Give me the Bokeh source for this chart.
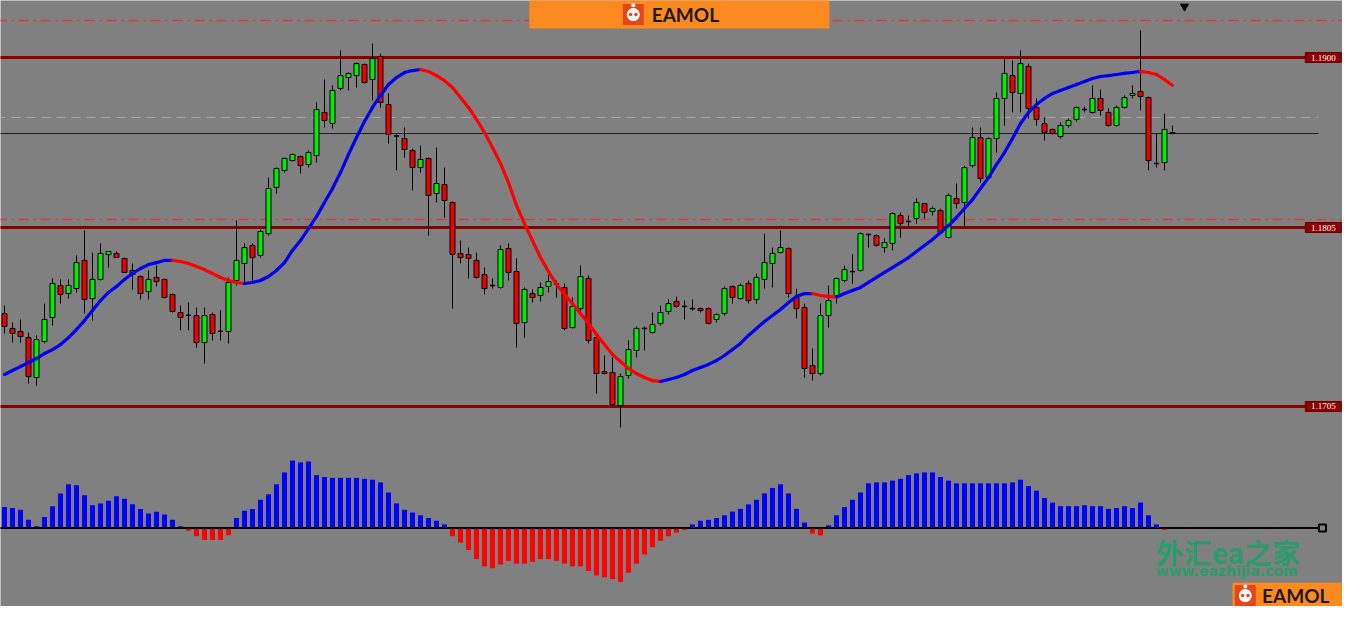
import numpy as np
from bokeh.plotting import figure
from bokeh.models import Range1d
from bokeh.embed import file_html
from bokeh.resources import INLINE
from bokeh.core.properties import value

# ---------------- data (EURUSD-like candles) ----------------
opens = [
    1.17570, 1.17486, 1.17469, 1.17435, 1.17212, 1.17413, 1.17547, 1.17726, 1.17681, 1.17709,
    1.17866, 1.17653, 1.17760, 1.17899, 1.17905, 1.17877, 1.17810, 1.17776, 1.17692, 1.17771,
    1.17760, 1.17676, 1.17575, 1.17560, 1.17558, 1.17407, 1.17564, 1.17470, 1.17469, 1.17754,
    1.17849, 1.17950, 1.17894, 1.18016, 1.18274, 1.18369, 1.18424, 1.18447, 1.18402, 1.18452,
    1.18693, 1.18631, 1.18827, 1.18888, 1.18899, 1.18961, 1.18877, 1.19006, 1.18737, 1.18562,
    1.18547, 1.18480, 1.18385, 1.18436, 1.18240, 1.18290, 1.18190, 1.17905, 1.17899, 1.17866,
    1.17787, 1.17726, 1.17715, 1.17933, 1.17804, 1.17519, 1.17681, 1.17670, 1.17720, 1.17735,
    1.17715, 1.17491, 1.17597, 1.17765, 1.17435, 1.17245, 1.17240, 1.17055, 1.17223, 1.17363,
    1.17486, 1.17463, 1.17514, 1.17581, 1.17637, 1.17609, 1.17597, 1.17597, 1.17597, 1.17536,
    1.17570, 1.17720, 1.17653, 1.17737, 1.17648, 1.17760, 1.17849, 1.17910, 1.17933, 1.17659,
    1.17603, 1.17279, 1.17234, 1.17558, 1.17670, 1.17754, 1.17804, 1.17810, 1.18011, 1.18005,
    1.17938, 1.17961, 1.18117, 1.18084, 1.18100, 1.18184, 1.18140, 1.18145, 1.17994, 1.18212,
    1.18190, 1.18396, 1.18553, 1.18329, 1.18547, 1.18771, 1.18899, 1.18799, 1.18950, 1.18721,
    1.18631, 1.18598, 1.18558, 1.18620, 1.18654, 1.18709, 1.18693, 1.18771, 1.18693, 1.18620,
    1.18721, 1.18788, 1.18810, 1.18776, 1.18408, 1.18413, 1.18581,
]
highs = [
    1.17614, 1.17519, 1.17536, 1.17463, 1.17447, 1.17625, 1.17765, 1.17760, 1.17760, 1.17894,
    1.18033, 1.17910, 1.17961, 1.17916, 1.17916, 1.17882, 1.17849, 1.17782, 1.17810, 1.17838,
    1.17765, 1.17681, 1.17614, 1.17631, 1.17603, 1.17603, 1.17575, 1.17586, 1.17771, 1.18089,
    1.17961, 1.17961, 1.18039, 1.18329, 1.18385, 1.18441, 1.18464, 1.18452, 1.18480, 1.18749,
    1.18877, 1.18844, 1.19039, 1.18916, 1.18972, 1.18966, 1.19078, 1.19022, 1.18799, 1.18570,
    1.18609, 1.18491, 1.18508, 1.18441, 1.18497, 1.18385, 1.18195, 1.17977, 1.17938, 1.17910,
    1.17826, 1.17765, 1.17950, 1.17961, 1.17877, 1.17715, 1.17704, 1.17743, 1.17799, 1.17754,
    1.17737, 1.17659, 1.17838, 1.17782, 1.17447, 1.17335, 1.17324, 1.17234, 1.17419, 1.17497,
    1.17497, 1.17575, 1.17614, 1.17648, 1.17664, 1.17642, 1.17648, 1.17603, 1.17603, 1.17570,
    1.17720, 1.17726, 1.17737, 1.17754, 1.17793, 1.18016, 1.17938, 1.18033, 1.17938, 1.17709,
    1.17625, 1.17374, 1.17625, 1.17726, 1.17771, 1.17838, 1.17899, 1.18022, 1.18016, 1.18011,
    1.17989, 1.18134, 1.18134, 1.18117, 1.18212, 1.18187, 1.18167, 1.18156, 1.18240, 1.18296,
    1.18396, 1.18609, 1.18609, 1.18553, 1.18804, 1.18994, 1.18983, 1.19039, 1.18966, 1.18771,
    1.18665, 1.18603, 1.18637, 1.18659, 1.18726, 1.18726, 1.18844, 1.18821, 1.18715, 1.18732,
    1.18788, 1.18844, 1.19151, 1.18782, 1.18575, 1.18687, 1.18620,
]
lows = [
    1.17458, 1.17407, 1.17407, 1.17178, 1.17167, 1.17402, 1.17502, 1.17625, 1.17653, 1.17687,
    1.17570, 1.17530, 1.17754, 1.17826, 1.17882, 1.17799, 1.17704, 1.17648, 1.17648, 1.17720,
    1.17653, 1.17575, 1.17475, 1.17475, 1.17379, 1.17290, 1.17419, 1.17419, 1.17402, 1.17726,
    1.17743, 1.17743, 1.17882, 1.18005, 1.18240, 1.18357, 1.18419, 1.18352, 1.18385, 1.18413,
    1.18609, 1.18603, 1.18816, 1.18816, 1.18832, 1.18855, 1.18760, 1.18721, 1.18519, 1.18369,
    1.18441, 1.18257, 1.18357, 1.18005, 1.18190, 1.18106, 1.17597, 1.17849, 1.17765, 1.17765,
    1.17676, 1.17709, 1.17709, 1.17754, 1.17379, 1.17435, 1.17631, 1.17637, 1.17687, 1.17659,
    1.17475, 1.17486, 1.17575, 1.17402, 1.17123, 1.17229, 1.17055, 1.16933, 1.17206, 1.17324,
    1.17363, 1.17458, 1.17502, 1.17564, 1.17603, 1.17536, 1.17586, 1.17575, 1.17508, 1.17519,
    1.17558, 1.17625, 1.17648, 1.17625, 1.17625, 1.17709, 1.17715, 1.17905, 1.17659, 1.17542,
    1.17212, 1.17195, 1.17223, 1.17491, 1.17625, 1.17743, 1.17737, 1.17804, 1.17938, 1.17944,
    1.17910, 1.17922, 1.17994, 1.18050, 1.18072, 1.18100, 1.18117, 1.18016, 1.17989, 1.18156,
    1.18050, 1.18385, 1.18301, 1.18324, 1.18469, 1.18620, 1.18693, 1.18693, 1.18659, 1.18620,
    1.18536, 1.18570, 1.18547, 1.18609, 1.18642, 1.18693, 1.18687, 1.18676, 1.18614, 1.18614,
    1.18715, 1.18771, 1.18704, 1.18369, 1.18385, 1.18369, 1.18570,
]
closes = [
    1.17497, 1.17458, 1.17441, 1.17217, 1.17424, 1.17536, 1.17737, 1.17676, 1.17726, 1.17854,
    1.17648, 1.17760, 1.17905, 1.17916, 1.17882, 1.17799, 1.17787, 1.17681, 1.17760, 1.17748,
    1.17659, 1.17581, 1.17547, 1.17560, 1.17407, 1.17558, 1.17458, 1.17470, 1.17743, 1.17866,
    1.17938, 1.17882, 1.18028, 1.18268, 1.18380, 1.18436, 1.18458, 1.18396, 1.18469, 1.18709,
    1.18648, 1.18816, 1.18899, 1.18911, 1.18966, 1.18860, 1.18994, 1.18749, 1.18570, 1.18562,
    1.18486, 1.18385, 1.18430, 1.18229, 1.18296, 1.18201, 1.17899, 1.17882, 1.17877, 1.17771,
    1.17709, 1.17726, 1.17927, 1.17799, 1.17514, 1.17704, 1.17659, 1.17715, 1.17748, 1.17735,
    1.17486, 1.17609, 1.17776, 1.17419, 1.17234, 1.17234, 1.17061, 1.17217, 1.17368, 1.17486,
    1.17486, 1.17508, 1.17575, 1.17625, 1.17609, 1.17609, 1.17597, 1.17586, 1.17514, 1.17564,
    1.17709, 1.17659, 1.17726, 1.17642, 1.17771, 1.17854, 1.17905, 1.17938, 1.17681, 1.17597,
    1.17262, 1.17234, 1.17558, 1.17642, 1.17765, 1.17815, 1.17804, 1.18016, 1.18011, 1.17950,
    1.17966, 1.18128, 1.18072, 1.18084, 1.18190, 1.18134, 1.18156, 1.18022, 1.18229, 1.18184,
    1.18385, 1.18553, 1.18324, 1.18547, 1.18771, 1.18911, 1.18804, 1.18966, 1.18715, 1.18654,
    1.18581, 1.18575, 1.18620, 1.18648, 1.18721, 1.18709, 1.18771, 1.18704, 1.18620, 1.18721,
    1.18776, 1.18799, 1.18782, 1.18424, 1.18408, 1.18598, 1.18575,
]
# smoothed moving average (blue when rising, red when falling)
ma = [
    1.17229, 1.17251, 1.17273, 1.17296, 1.17318, 1.17346, 1.17368, 1.17396, 1.17435, 1.17480,
    1.17530, 1.17586, 1.17642, 1.17687, 1.17720, 1.17760, 1.17793, 1.17821, 1.17843, 1.17854,
    1.17866, 1.17866, 1.17860, 1.17849, 1.17832, 1.17815, 1.17793, 1.17771, 1.17754, 1.17743,
    1.17737, 1.17743, 1.17754, 1.17776, 1.17810, 1.17854, 1.17922, 1.17977, 1.18044, 1.18111,
    1.18190, 1.18268, 1.18357, 1.18458, 1.18553, 1.18642, 1.18721, 1.18788, 1.18849, 1.18888,
    1.18916, 1.18927, 1.18933, 1.18922, 1.18899, 1.18871, 1.18832, 1.18776, 1.18721, 1.18654,
    1.18581, 1.18497, 1.18408, 1.18301, 1.18173, 1.18072, 1.17977, 1.17882, 1.17804, 1.17732,
    1.17676, 1.17625, 1.17570, 1.17514, 1.17452, 1.17396, 1.17340, 1.17301, 1.17262, 1.17234,
    1.17212, 1.17195, 1.17190, 1.17201, 1.17212, 1.17229, 1.17251, 1.17268, 1.17285, 1.17307,
    1.17335, 1.17368, 1.17402, 1.17447, 1.17486, 1.17525, 1.17558, 1.17592, 1.17631, 1.17664,
    1.17681, 1.17681, 1.17670, 1.17664, 1.17662, 1.17681, 1.17698, 1.17715, 1.17743, 1.17771,
    1.17799, 1.17826, 1.17854, 1.17882, 1.17916, 1.17950, 1.17983, 1.18022, 1.18061, 1.18106,
    1.18156, 1.18206, 1.18268, 1.18329, 1.18402, 1.18469, 1.18547, 1.18631, 1.18693, 1.18737,
    1.18771, 1.18799, 1.18816, 1.18832, 1.18849, 1.18866, 1.18883, 1.18894, 1.18899, 1.18905,
    1.18911, 1.18916, 1.18922, 1.18916, 1.18905, 1.18877, 1.18844,
]
# oscillator histogram (units of 0.00001)
osc = [
    23, 22, 20, 9, 2, 12, 24, 38, 48, 47,
    36, 25, 27, 30, 35, 32, 26, 21, 16, 18,
    15, 9, 2, -3, -9, -13, -13, -13, -8, 11,
    19, 21, 31, 37, 48, 61, 74, 72, 73, 58,
    56, 55, 55, 55, 55, 54, 53, 50, 39, 27,
    20, 17, 14, 11, 8, 4, -9, -16, -24, -34,
    -42, -44, -40, -36, -39, -39, -37, -34, -34, -36,
    -39, -42, -42, -47, -52, -54, -56, -59, -49, -39,
    -29, -21, -14, -9, -5, -2, 4, 8, 9, 11,
    14, 18, 21, 26, 31, 38, 44, 48, 38, 21,
    6, -6, -8, 3, 14, 23, 31, 39, 49, 50,
    50, 52, 54, 58, 60, 61, 61, 56, 52, 49,
    49, 49, 49, 49, 49, 49, 50, 53, 46, 41,
    33, 28, 24, 24, 24, 25, 24, 24, 21, 22,
    24, 22, 28, 14, 4, -2, 0,
]

levels = [1.1900, 1.1805, 1.1705]
level_labels = ["1.1900", "1.1805", "1.1705"]
dashdot_levels = [1.19207, 1.18095]
grey_level = 1.18665
bid_level = 1.18575

# ---------------- styling ----------------
BG = "#808080"
W, H = 1342, 606
LINE_END = 164.25    # end of bid / grey / zero lines
LEVEL_END = 162.6    # end of level lines, where price tags begin
TAG_END = 167.1
TAG_HALF = 0.00028

n = len(closes)
idx = np.arange(n)
o = np.array(opens); c = np.array(closes); h = np.array(highs); l = np.array(lows)

p = figure(width=W, height=H, x_range=Range1d(-0.5, 167.25), y_range=Range1d(1.159324, 1.193185),
           output_backend="svg", toolbar_location=None, min_border=0,
           x_axis_location=None, y_axis_location=None,
           background_fill_color=BG, border_fill_color=BG, outline_line_color=None)
p.grid.visible = False
p.extra_y_ranges = {"osc": Range1d(-86, 578.4)}

# dash-dot red levels
p.segment(x0=-1, x1=170, y0=dashdot_levels, y1=dashdot_levels,
          line_color="#dd3a3a", line_width=1.5, line_dash="10 5 2 5")
# grey dashed level
p.segment(x0=[-1], x1=[LINE_END], y0=[grey_level], y1=[grey_level],
          line_color="#a6a6a6", line_width=1, line_dash="9 6")
# bid line
p.segment(x0=[-1], x1=[LINE_END], y0=[bid_level], y1=[bid_level],
          line_color="#1e1e1e", line_width=1)
# dark red support/resistance with price tags
lv = np.array(levels)
p.segment(x0=-1, x1=LEVEL_END, y0=lv, y1=lv, line_color="#8b0000", line_width=3)
p.quad(left=LEVEL_END, right=TAG_END, top=lv + TAG_HALF, bottom=lv - TAG_HALF,
       fill_color="#8b0000", line_color="#6a0000")
p.text(x=(LEVEL_END + TAG_END) / 2, y=lv, text=level_labels, text_font=value("Liberation Serif"),
       text_font_size="9px", text_color="white", text_align="center", text_baseline="middle")

# candles
p.segment(x0=idx, x1=idx, y0=l, y1=h, line_color="black", line_width=1)
body = o != c
up = c > o
col = np.where(up, "#00ee00", "#ee0000")
p.vbar(x=idx[body], top=np.maximum(o, c)[body], bottom=np.minimum(o, c)[body], width=0.62,
       fill_color=col[body], line_color="black", line_width=1)
doji = ~body
p.segment(x0=idx[doji] - 0.32, x1=idx[doji] + 0.32, y0=c[doji], y1=c[doji],
          line_color="black", line_width=1.5)

# moving average coloured by slope
m = np.array(ma)
rising = m[1:] >= m[:-1]
seg_col = np.where(rising, "#0000ee", "#ff0000")
p.segment(x0=idx[:-1], x1=idx[1:], y0=m[:-1], y1=m[1:], line_color=seg_col,
          line_width=3.2, line_cap="round")

# marker at top right
p.scatter(x=[147.5], y=[1.19285], marker="inverted_triangle", size=8, color="black")


def logo(x, y, dx, dy, rng="default"):
    p.scatter(x=[x], y=[y], marker="square", size=21, fill_color="#e8441a", line_color=None,
              y_range_name=rng)
    p.scatter(x=[x], y=[y], marker="circle", size=13, fill_color="white", line_color=None,
              y_range_name=rng)
    p.scatter(x=[x], y=[y + dy], marker="circle", size=4, fill_color="white", line_color=None,
              y_range_name=rng)
    p.scatter(x=[x - dx, x + dx], y=[y, y], marker="circle", size=3.5, fill_color="#e8441a",
              line_color=None, y_range_name=rng)


# top orange banner with logo
p.quad(left=[65.6], right=[103.1], top=[1.1935], bottom=[1.19162], fill_color="#fd8a1e",
       line_color=None)
logo(78.6, 1.19240, 0.33, 0.00052)
p.text(x=[80.9], y=[1.19240], text=["EAMOL"], text_font=value("Lato"), text_font_style="bold",
       text_font_size="19px", text_color="#1a1a1a", text_baseline="middle", text_align="left")

# ---------------- lower panel: histogram ----------------
ov = np.array(osc)
hcol = np.where(ov >= 0, "#0000ff", "#ff0000")
p.vbar(x=idx, top=ov, bottom=0, width=0.62, fill_color=hcol, line_color=None, y_range_name="osc")
p.segment(x0=[-1], x1=[LINE_END], y0=[0], y1=[0], line_color="black", line_width=2,
          y_range_name="osc")
p.scatter(x=[164.75], y=[0], marker="square", size=7, fill_color=BG, line_color="black",
          line_width=2, y_range_name="osc")

# watermark
p.text(x=[143.9], y=[-4], text=["外汇ea之家"], text_font=value("Noto Sans CJK SC"),
       text_font_style="bold", text_font_size="28px", text_color="#2b9d6b",
       text_baseline="top", text_align="left", y_range_name="osc")
p.text(x=[143.9], y=[-38], text=["www.eazhijia.com"], text_font=value("DejaVu Sans"),
       text_font_style="bold", text_font_size="14px", text_color="#2b9d6b",
       text_baseline="top", text_align="left", y_range_name="osc")

# bottom-right orange badge
p.quad(left=[153.5], right=[170], top=[-60], bottom=[-95], fill_color="#fd8a1e", line_color=None,
       y_range_name="osc")
logo(155.1, -74, 0.33, 10, rng="osc")
p.text(x=[157.2], y=[-74], text=["EAMOL"], text_font=value("Lato"), text_font_style="bold",
       text_font_size="19px", text_color="#1a1a1a", text_baseline="middle", text_align="left",
       y_range_name="osc")

open("out.html", "w").write(file_html(p, INLINE))
